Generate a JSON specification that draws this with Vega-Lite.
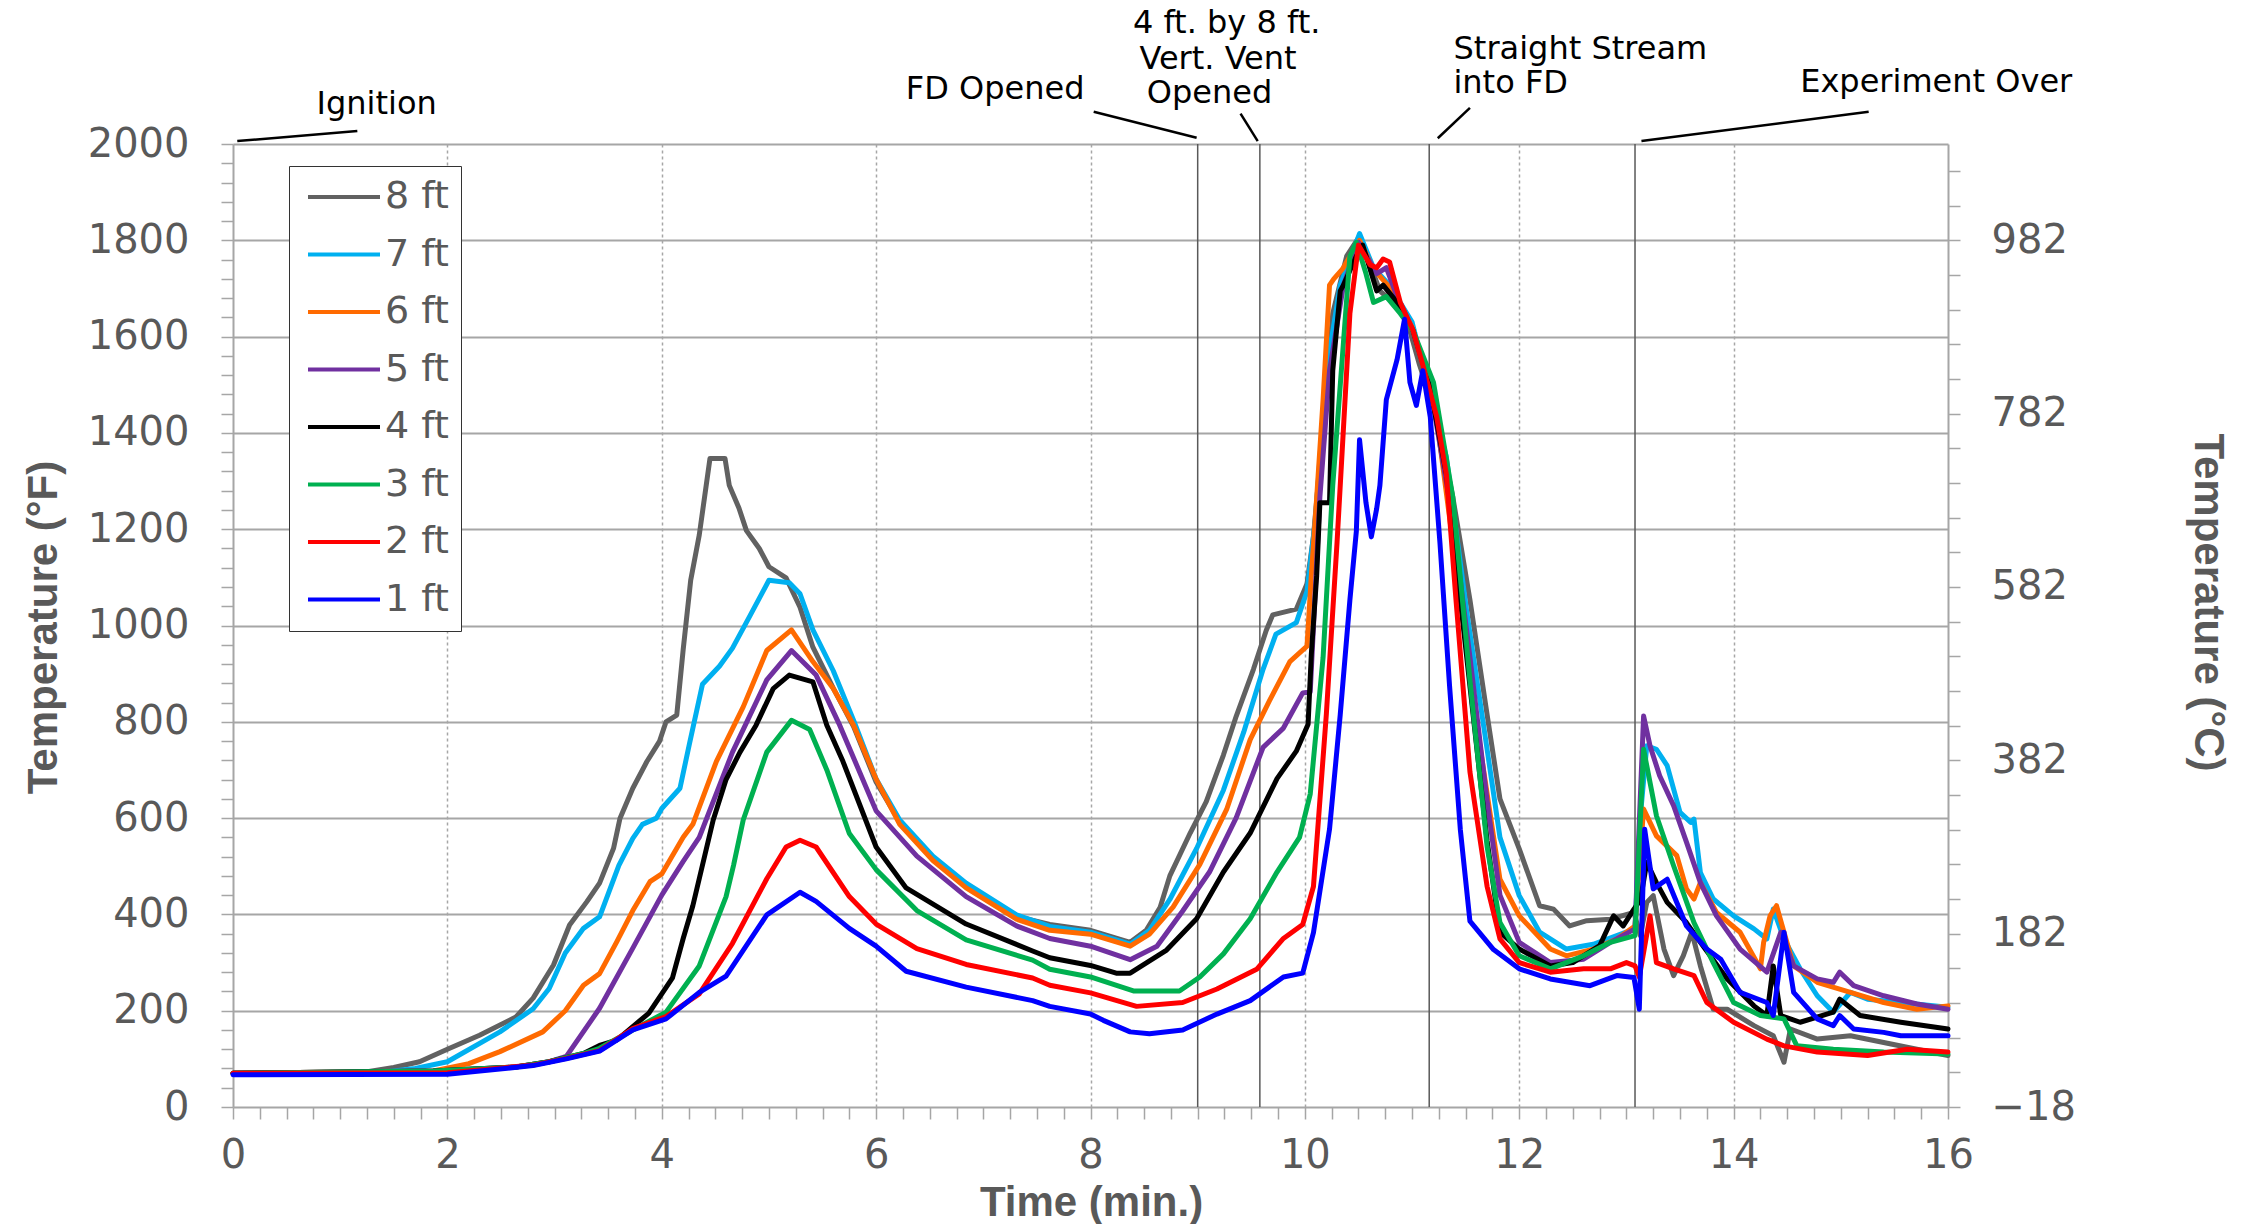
{
"$schema":"https://vega.github.io/schema/vega-lite/v6.json",
"width":1715,"height":963,
"autosize":{"type":"none"},
"padding":{"left":233,"top":144,"right":309,"bottom":117},
"background":"white",
"config":{"view":{"stroke":null}},
"datasets":{
"events":[{"t":9.0},{"t":9.58},{"t":11.16},{"t":13.08}],
"leaders":[{"t":0.04,"t2":1.16,"v":2006,"v2":2027},{"t":8.03,"t2":8.99,"v":2067,"v2":2013},{"t":9.40,"t2":9.56,"v":2063,"v2":2006},{"t":11.54,"t2":11.24,"v":2075,"v2":2012},{"t":15.26,"t2":13.14,"v":2067,"v2":2006}],
"notes":[{"label":"Ignition","t":1.34,"v":2084},{"label":"FD Opened","t":7.11,"v":2114},{"label":"4 ft. by 8 ft.","t":9.27,"v":2251},{"label":"Vert. Vent","t":9.19,"v":2177},{"label":"Opened","t":9.11,"v":2105},{"label":"Straight Stream","t":12.57,"v":2198},{"label":"into FD","t":11.92,"v":2126},{"label":"Experiment Over","t":15.89,"v":2129}],
"temps":[
{"s":"8 ft","t":0,"v":70},{"s":"8 ft","t":1.0,"v":71},{"s":"8 ft","t":1.24,"v":73},{"s":"8 ft","t":1.5,"v":82},{"s":"8 ft","t":1.74,"v":94},{"s":"8 ft","t":2.0,"v":120},{"s":"8 ft","t":2.3,"v":149},{"s":"8 ft","t":2.64,"v":187},{"s":"8 ft","t":2.8,"v":226},{"s":"8 ft","t":2.99,"v":295},{"s":"8 ft","t":3.14,"v":378},{"s":"8 ft","t":3.3,"v":426},{"s":"8 ft","t":3.42,"v":465},{"s":"8 ft","t":3.55,"v":537},{"s":"8 ft","t":3.61,"v":599},{"s":"8 ft","t":3.73,"v":662},{"s":"8 ft","t":3.86,"v":717},{"s":"8 ft","t":3.98,"v":760},{"s":"8 ft","t":4.04,"v":800},{"s":"8 ft","t":4.14,"v":814},{"s":"8 ft","t":4.2,"v":950},{"s":"8 ft","t":4.27,"v":1094},{"s":"8 ft","t":4.35,"v":1188},{"s":"8 ft","t":4.45,"v":1347},{"s":"8 ft","t":4.59,"v":1347},{"s":"8 ft","t":4.63,"v":1291},{"s":"8 ft","t":4.72,"v":1244},{"s":"8 ft","t":4.79,"v":1197},{"s":"8 ft","t":4.91,"v":1160},{"s":"8 ft","t":5.0,"v":1122},{"s":"8 ft","t":5.16,"v":1099},{"s":"8 ft","t":5.29,"v":1038},{"s":"8 ft","t":5.41,"v":955},{"s":"8 ft","t":5.6,"v":870},{"s":"8 ft","t":5.79,"v":790},{"s":"8 ft","t":6.0,"v":675},{"s":"8 ft","t":6.22,"v":592},{"s":"8 ft","t":6.53,"v":518},{"s":"8 ft","t":6.84,"v":462},{"s":"8 ft","t":7.31,"v":396},{"s":"8 ft","t":7.62,"v":379},{"s":"8 ft","t":8.0,"v":367},{"s":"8 ft","t":8.37,"v":342},{"s":"8 ft","t":8.52,"v":367},{"s":"8 ft","t":8.65,"v":415},{"s":"8 ft","t":8.74,"v":480},{"s":"8 ft","t":8.93,"v":569},{"s":"8 ft","t":9.08,"v":634},{"s":"8 ft","t":9.24,"v":731},{"s":"8 ft","t":9.36,"v":812},{"s":"8 ft","t":9.52,"v":909},{"s":"8 ft","t":9.64,"v":990},{"s":"8 ft","t":9.7,"v":1022},{"s":"8 ft","t":9.92,"v":1034},{"s":"8 ft","t":10.02,"v":1087},{"s":"8 ft","t":10.08,"v":1184},{"s":"8 ft","t":10.17,"v":1410},{"s":"8 ft","t":10.26,"v":1648},{"s":"8 ft","t":10.39,"v":1767},{"s":"8 ft","t":10.51,"v":1808},{"s":"8 ft","t":10.64,"v":1731},{"s":"8 ft","t":10.7,"v":1695},{"s":"8 ft","t":10.82,"v":1671},{"s":"8 ft","t":10.95,"v":1636},{"s":"8 ft","t":11.07,"v":1541},{"s":"8 ft","t":11.23,"v":1433},{"s":"8 ft","t":11.38,"v":1267},{"s":"8 ft","t":11.54,"v":1053},{"s":"8 ft","t":11.7,"v":815},{"s":"8 ft","t":11.82,"v":640},{"s":"8 ft","t":12.0,"v":536},{"s":"8 ft","t":12.19,"v":418},{"s":"8 ft","t":12.32,"v":411},{"s":"8 ft","t":12.47,"v":376},{"s":"8 ft","t":12.63,"v":387},{"s":"8 ft","t":12.85,"v":390},{"s":"8 ft","t":13.07,"v":404},{"s":"8 ft","t":13.13,"v":356},{"s":"8 ft","t":13.19,"v":425},{"s":"8 ft","t":13.25,"v":439},{"s":"8 ft","t":13.35,"v":328},{"s":"8 ft","t":13.44,"v":273},{"s":"8 ft","t":13.53,"v":314},{"s":"8 ft","t":13.61,"v":363},{"s":"8 ft","t":13.69,"v":293},{"s":"8 ft","t":13.81,"v":203},{"s":"8 ft","t":13.94,"v":203},{"s":"8 ft","t":14.19,"v":169},{"s":"8 ft","t":14.37,"v":148},{"s":"8 ft","t":14.47,"v":93},{"s":"8 ft","t":14.53,"v":162},{"s":"8 ft","t":14.78,"v":141},{"s":"8 ft","t":15.09,"v":148},{"s":"8 ft","t":15.4,"v":134},{"s":"8 ft","t":15.71,"v":120},{"s":"8 ft","t":16.0,"v":107},
{"s":"7 ft","t":0,"v":70},{"s":"7 ft","t":1.4,"v":72},{"s":"7 ft","t":1.7,"v":80},{"s":"7 ft","t":2.0,"v":94},{"s":"7 ft","t":2.49,"v":156},{"s":"7 ft","t":2.8,"v":204},{"s":"7 ft","t":2.95,"v":246},{"s":"7 ft","t":3.1,"v":320},{"s":"7 ft","t":3.27,"v":371},{"s":"7 ft","t":3.42,"v":395},{"s":"7 ft","t":3.6,"v":502},{"s":"7 ft","t":3.73,"v":558},{"s":"7 ft","t":3.82,"v":587},{"s":"7 ft","t":3.95,"v":600},{"s":"7 ft","t":4.0,"v":620},{"s":"7 ft","t":4.17,"v":662},{"s":"7 ft","t":4.26,"v":756},{"s":"7 ft","t":4.38,"v":878},{"s":"7 ft","t":4.54,"v":916},{"s":"7 ft","t":4.66,"v":953},{"s":"7 ft","t":4.82,"v":1019},{"s":"7 ft","t":5.0,"v":1094},{"s":"7 ft","t":5.19,"v":1089},{"s":"7 ft","t":5.29,"v":1066},{"s":"7 ft","t":5.41,"v":991},{"s":"7 ft","t":5.6,"v":906},{"s":"7 ft","t":5.79,"v":803},{"s":"7 ft","t":6.0,"v":681},{"s":"7 ft","t":6.22,"v":596},{"s":"7 ft","t":6.53,"v":521},{"s":"7 ft","t":6.84,"v":465},{"s":"7 ft","t":7.31,"v":399},{"s":"7 ft","t":7.62,"v":375},{"s":"7 ft","t":8.0,"v":363},{"s":"7 ft","t":8.37,"v":338},{"s":"7 ft","t":8.55,"v":367},{"s":"7 ft","t":8.74,"v":431},{"s":"7 ft","t":8.99,"v":537},{"s":"7 ft","t":9.24,"v":658},{"s":"7 ft","t":9.43,"v":779},{"s":"7 ft","t":9.61,"v":909},{"s":"7 ft","t":9.73,"v":982},{"s":"7 ft","t":9.92,"v":1006},{"s":"7 ft","t":10.02,"v":1071},{"s":"7 ft","t":10.1,"v":1224},{"s":"7 ft","t":10.2,"v":1529},{"s":"7 ft","t":10.33,"v":1707},{"s":"7 ft","t":10.51,"v":1814},{"s":"7 ft","t":10.64,"v":1743},{"s":"7 ft","t":10.79,"v":1707},{"s":"7 ft","t":11.0,"v":1630},{"s":"7 ft","t":11.15,"v":1500},{"s":"7 ft","t":11.32,"v":1350},{"s":"7 ft","t":11.51,"v":1029},{"s":"7 ft","t":11.7,"v":743},{"s":"7 ft","t":11.82,"v":560},{"s":"7 ft","t":12.0,"v":439},{"s":"7 ft","t":12.19,"v":363},{"s":"7 ft","t":12.44,"v":328},{"s":"7 ft","t":12.69,"v":338},{"s":"7 ft","t":12.91,"v":356},{"s":"7 ft","t":13.08,"v":370},{"s":"7 ft","t":13.13,"v":605},{"s":"7 ft","t":13.19,"v":750},{"s":"7 ft","t":13.28,"v":743},{"s":"7 ft","t":13.38,"v":709},{"s":"7 ft","t":13.5,"v":612},{"s":"7 ft","t":13.6,"v":591},{"s":"7 ft","t":13.63,"v":598},{"s":"7 ft","t":13.69,"v":487},{"s":"7 ft","t":13.81,"v":432},{"s":"7 ft","t":14.0,"v":397},{"s":"7 ft","t":14.19,"v":370},{"s":"7 ft","t":14.31,"v":349},{"s":"7 ft","t":14.37,"v":411},{"s":"7 ft","t":14.47,"v":349},{"s":"7 ft","t":14.62,"v":287},{"s":"7 ft","t":14.78,"v":231},{"s":"7 ft","t":14.93,"v":197},{"s":"7 ft","t":15.09,"v":238},{"s":"7 ft","t":15.25,"v":224},{"s":"7 ft","t":15.56,"v":217},{"s":"7 ft","t":16.0,"v":207},
{"s":"6 ft","t":0,"v":70},{"s":"6 ft","t":1.87,"v":75},{"s":"6 ft","t":2.2,"v":90},{"s":"6 ft","t":2.49,"v":115},{"s":"6 ft","t":2.89,"v":156},{"s":"6 ft","t":3.1,"v":200},{"s":"6 ft","t":3.27,"v":253},{"s":"6 ft","t":3.42,"v":277},{"s":"6 ft","t":3.58,"v":343},{"s":"6 ft","t":3.73,"v":408},{"s":"6 ft","t":3.89,"v":468},{"s":"6 ft","t":4.0,"v":484},{"s":"6 ft","t":4.2,"v":560},{"s":"6 ft","t":4.29,"v":587},{"s":"6 ft","t":4.51,"v":718},{"s":"6 ft","t":4.76,"v":831},{"s":"6 ft","t":4.98,"v":948},{"s":"6 ft","t":5.21,"v":991},{"s":"6 ft","t":5.41,"v":925},{"s":"6 ft","t":5.6,"v":869},{"s":"6 ft","t":5.79,"v":793},{"s":"6 ft","t":6.0,"v":681},{"s":"6 ft","t":6.22,"v":587},{"s":"6 ft","t":6.53,"v":512},{"s":"6 ft","t":6.84,"v":455},{"s":"6 ft","t":7.31,"v":390},{"s":"6 ft","t":7.62,"v":367},{"s":"6 ft","t":8.0,"v":359},{"s":"6 ft","t":8.37,"v":334},{"s":"6 ft","t":8.55,"v":359},{"s":"6 ft","t":8.77,"v":415},{"s":"6 ft","t":9.02,"v":504},{"s":"6 ft","t":9.27,"v":618},{"s":"6 ft","t":9.49,"v":763},{"s":"6 ft","t":9.67,"v":844},{"s":"6 ft","t":9.86,"v":925},{"s":"6 ft","t":10.02,"v":957},{"s":"6 ft","t":10.06,"v":1103},{"s":"6 ft","t":10.11,"v":1265},{"s":"6 ft","t":10.17,"v":1469},{"s":"6 ft","t":10.23,"v":1707},{"s":"6 ft","t":10.27,"v":1720},{"s":"6 ft","t":10.35,"v":1740},{"s":"6 ft","t":10.51,"v":1800},{"s":"6 ft","t":10.64,"v":1740},{"s":"6 ft","t":10.8,"v":1700},{"s":"6 ft","t":11.0,"v":1620},{"s":"6 ft","t":11.2,"v":1480},{"s":"6 ft","t":11.45,"v":1053},{"s":"6 ft","t":11.63,"v":755},{"s":"6 ft","t":11.82,"v":473},{"s":"6 ft","t":12.0,"v":397},{"s":"6 ft","t":12.29,"v":328},{"s":"6 ft","t":12.44,"v":314},{"s":"6 ft","t":12.69,"v":328},{"s":"6 ft","t":12.91,"v":349},{"s":"6 ft","t":13.08,"v":376},{"s":"6 ft","t":13.16,"v":619},{"s":"6 ft","t":13.28,"v":563},{"s":"6 ft","t":13.47,"v":522},{"s":"6 ft","t":13.56,"v":453},{"s":"6 ft","t":13.63,"v":432},{"s":"6 ft","t":13.69,"v":466},{"s":"6 ft","t":13.84,"v":404},{"s":"6 ft","t":14.06,"v":363},{"s":"6 ft","t":14.25,"v":287},{"s":"6 ft","t":14.28,"v":342},{"s":"6 ft","t":14.34,"v":397},{"s":"6 ft","t":14.4,"v":418},{"s":"6 ft","t":14.47,"v":363},{"s":"6 ft","t":14.56,"v":293},{"s":"6 ft","t":14.78,"v":259},{"s":"6 ft","t":15.09,"v":238},{"s":"6 ft","t":15.4,"v":217},{"s":"6 ft","t":15.71,"v":203},{"s":"6 ft","t":16.0,"v":210},
{"s":"5 ft","t":0,"v":70},{"s":"5 ft","t":1.87,"v":75},{"s":"5 ft","t":2.64,"v":83},{"s":"5 ft","t":2.95,"v":94},{"s":"5 ft","t":3.11,"v":105},{"s":"5 ft","t":3.42,"v":205},{"s":"5 ft","t":3.73,"v":330},{"s":"5 ft","t":4.0,"v":440},{"s":"5 ft","t":4.2,"v":510},{"s":"5 ft","t":4.35,"v":560},{"s":"5 ft","t":4.66,"v":737},{"s":"5 ft","t":4.98,"v":887},{"s":"5 ft","t":5.21,"v":948},{"s":"5 ft","t":5.44,"v":897},{"s":"5 ft","t":5.66,"v":793},{"s":"5 ft","t":6.0,"v":615},{"s":"5 ft","t":6.38,"v":521},{"s":"5 ft","t":6.84,"v":437},{"s":"5 ft","t":7.31,"v":376},{"s":"5 ft","t":7.62,"v":350},{"s":"5 ft","t":8.0,"v":334},{"s":"5 ft","t":8.37,"v":306},{"s":"5 ft","t":8.62,"v":334},{"s":"5 ft","t":8.86,"v":407},{"s":"5 ft","t":9.11,"v":488},{"s":"5 ft","t":9.36,"v":601},{"s":"5 ft","t":9.61,"v":747},{"s":"5 ft","t":9.8,"v":787},{"s":"5 ft","t":9.98,"v":860},{"s":"5 ft","t":10.05,"v":862},{"s":"5 ft","t":10.14,"v":1267},{"s":"5 ft","t":10.23,"v":1529},{"s":"5 ft","t":10.36,"v":1707},{"s":"5 ft","t":10.5,"v":1796},{"s":"5 ft","t":10.67,"v":1731},{"s":"5 ft","t":10.76,"v":1743},{"s":"5 ft","t":10.86,"v":1683},{"s":"5 ft","t":11.01,"v":1612},{"s":"5 ft","t":11.17,"v":1493},{"s":"5 ft","t":11.38,"v":1219},{"s":"5 ft","t":11.54,"v":934},{"s":"5 ft","t":11.7,"v":636},{"s":"5 ft","t":11.82,"v":440},{"s":"5 ft","t":12.0,"v":342},{"s":"5 ft","t":12.29,"v":300},{"s":"5 ft","t":12.6,"v":307},{"s":"5 ft","t":12.85,"v":342},{"s":"5 ft","t":13.08,"v":370},{"s":"5 ft","t":13.16,"v":812},{"s":"5 ft","t":13.22,"v":750},{"s":"5 ft","t":13.31,"v":688},{"s":"5 ft","t":13.44,"v":626},{"s":"5 ft","t":13.56,"v":550},{"s":"5 ft","t":13.69,"v":466},{"s":"5 ft","t":13.84,"v":397},{"s":"5 ft","t":14.06,"v":328},{"s":"5 ft","t":14.31,"v":280},{"s":"5 ft","t":14.44,"v":363},{"s":"5 ft","t":14.56,"v":293},{"s":"5 ft","t":14.78,"v":266},{"s":"5 ft","t":14.93,"v":259},{"s":"5 ft","t":14.99,"v":280},{"s":"5 ft","t":15.12,"v":252},{"s":"5 ft","t":15.4,"v":231},{"s":"5 ft","t":15.71,"v":214},{"s":"5 ft","t":16.0,"v":203},
{"s":"4 ft","t":0,"v":70},{"s":"4 ft","t":1.87,"v":75},{"s":"4 ft","t":2.64,"v":83},{"s":"4 ft","t":2.95,"v":94},{"s":"4 ft","t":3.27,"v":111},{"s":"4 ft","t":3.42,"v":128},{"s":"4 ft","t":3.58,"v":139},{"s":"4 ft","t":3.88,"v":195},{"s":"4 ft","t":4.1,"v":268},{"s":"4 ft","t":4.2,"v":350},{"s":"4 ft","t":4.29,"v":418},{"s":"4 ft","t":4.48,"v":596},{"s":"4 ft","t":4.6,"v":680},{"s":"4 ft","t":4.73,"v":737},{"s":"4 ft","t":4.88,"v":793},{"s":"4 ft","t":5.04,"v":869},{"s":"4 ft","t":5.19,"v":897},{"s":"4 ft","t":5.41,"v":883},{"s":"4 ft","t":5.54,"v":793},{"s":"4 ft","t":5.69,"v":718},{"s":"4 ft","t":6.0,"v":540},{"s":"4 ft","t":6.28,"v":455},{"s":"4 ft","t":6.84,"v":380},{"s":"4 ft","t":7.46,"v":324},{"s":"4 ft","t":7.62,"v":310},{"s":"4 ft","t":8.0,"v":294},{"s":"4 ft","t":8.24,"v":278},{"s":"4 ft","t":8.37,"v":278},{"s":"4 ft","t":8.71,"v":326},{"s":"4 ft","t":8.99,"v":391},{"s":"4 ft","t":9.24,"v":488},{"s":"4 ft","t":9.49,"v":569},{"s":"4 ft","t":9.74,"v":682},{"s":"4 ft","t":9.92,"v":739},{"s":"4 ft","t":10.03,"v":795},{"s":"4 ft","t":10.06,"v":940},{"s":"4 ft","t":10.11,"v":1103},{"s":"4 ft","t":10.14,"v":1255},{"s":"4 ft","t":10.23,"v":1255},{"s":"4 ft","t":10.26,"v":1529},{"s":"4 ft","t":10.33,"v":1695},{"s":"4 ft","t":10.36,"v":1707},{"s":"4 ft","t":10.48,"v":1767},{"s":"4 ft","t":10.54,"v":1790},{"s":"4 ft","t":10.67,"v":1695},{"s":"4 ft","t":10.73,"v":1707},{"s":"4 ft","t":10.86,"v":1671},{"s":"4 ft","t":11.01,"v":1612},{"s":"4 ft","t":11.17,"v":1493},{"s":"4 ft","t":11.32,"v":1314},{"s":"4 ft","t":11.51,"v":934},{"s":"4 ft","t":11.7,"v":553},{"s":"4 ft","t":11.82,"v":363},{"s":"4 ft","t":12.0,"v":328},{"s":"4 ft","t":12.29,"v":293},{"s":"4 ft","t":12.5,"v":300},{"s":"4 ft","t":12.75,"v":335},{"s":"4 ft","t":12.88,"v":397},{"s":"4 ft","t":12.97,"v":376},{"s":"4 ft","t":13.07,"v":411},{"s":"4 ft","t":13.13,"v":430},{"s":"4 ft","t":13.19,"v":508},{"s":"4 ft","t":13.28,"v":466},{"s":"4 ft","t":13.38,"v":425},{"s":"4 ft","t":13.56,"v":383},{"s":"4 ft","t":13.69,"v":342},{"s":"4 ft","t":13.94,"v":266},{"s":"4 ft","t":14.19,"v":210},{"s":"4 ft","t":14.31,"v":190},{"s":"4 ft","t":14.37,"v":293},{"s":"4 ft","t":14.44,"v":190},{"s":"4 ft","t":14.62,"v":176},{"s":"4 ft","t":14.93,"v":197},{"s":"4 ft","t":14.99,"v":224},{"s":"4 ft","t":15.18,"v":190},{"s":"4 ft","t":15.56,"v":176},{"s":"4 ft","t":16.0,"v":162},
{"s":"3 ft","t":0,"v":70},{"s":"3 ft","t":1.87,"v":75},{"s":"3 ft","t":2.64,"v":83},{"s":"3 ft","t":2.95,"v":94},{"s":"3 ft","t":3.27,"v":111},{"s":"3 ft","t":3.42,"v":122},{"s":"3 ft","t":3.73,"v":160},{"s":"3 ft","t":4.04,"v":197},{"s":"3 ft","t":4.35,"v":293},{"s":"3 ft","t":4.6,"v":437},{"s":"3 ft","t":4.67,"v":502},{"s":"3 ft","t":4.76,"v":596},{"s":"3 ft","t":4.98,"v":737},{"s":"3 ft","t":5.21,"v":803},{"s":"3 ft","t":5.38,"v":784},{"s":"3 ft","t":5.54,"v":700},{"s":"3 ft","t":5.75,"v":568},{"s":"3 ft","t":6.0,"v":493},{"s":"3 ft","t":6.38,"v":408},{"s":"3 ft","t":6.84,"v":347},{"s":"3 ft","t":7.46,"v":305},{"s":"3 ft","t":7.62,"v":286},{"s":"3 ft","t":8.0,"v":270},{"s":"3 ft","t":8.4,"v":241},{"s":"3 ft","t":8.83,"v":241},{"s":"3 ft","t":9.02,"v":270},{"s":"3 ft","t":9.24,"v":318},{"s":"3 ft","t":9.49,"v":391},{"s":"3 ft","t":9.74,"v":488},{"s":"3 ft","t":9.95,"v":560},{"s":"3 ft","t":10.05,"v":650},{"s":"3 ft","t":10.17,"v":934},{"s":"3 ft","t":10.26,"v":1291},{"s":"3 ft","t":10.36,"v":1588},{"s":"3 ft","t":10.42,"v":1767},{"s":"3 ft","t":10.48,"v":1796},{"s":"3 ft","t":10.57,"v":1731},{"s":"3 ft","t":10.64,"v":1671},{"s":"3 ft","t":10.76,"v":1683},{"s":"3 ft","t":10.89,"v":1648},{"s":"3 ft","t":11.01,"v":1612},{"s":"3 ft","t":11.2,"v":1505},{"s":"3 ft","t":11.38,"v":1267},{"s":"3 ft","t":11.54,"v":886},{"s":"3 ft","t":11.7,"v":541},{"s":"3 ft","t":11.82,"v":383},{"s":"3 ft","t":12.0,"v":314},{"s":"3 ft","t":12.29,"v":287},{"s":"3 ft","t":12.6,"v":314},{"s":"3 ft","t":12.85,"v":342},{"s":"3 ft","t":13.08,"v":356},{"s":"3 ft","t":13.16,"v":743},{"s":"3 ft","t":13.28,"v":605},{"s":"3 ft","t":13.44,"v":501},{"s":"3 ft","t":13.63,"v":383},{"s":"3 ft","t":13.81,"v":300},{"s":"3 ft","t":14.0,"v":217},{"s":"3 ft","t":14.25,"v":190},{"s":"3 ft","t":14.47,"v":183},{"s":"3 ft","t":14.59,"v":127},{"s":"3 ft","t":14.93,"v":120},{"s":"3 ft","t":15.4,"v":114},{"s":"3 ft","t":16.0,"v":110},
{"s":"2 ft","t":0,"v":70},{"s":"2 ft","t":2.0,"v":71},{"s":"2 ft","t":2.8,"v":87},{"s":"2 ft","t":3.11,"v":101},{"s":"2 ft","t":3.42,"v":117},{"s":"2 ft","t":3.73,"v":163},{"s":"2 ft","t":4.04,"v":188},{"s":"2 ft","t":4.35,"v":235},{"s":"2 ft","t":4.66,"v":340},{"s":"2 ft","t":4.98,"v":474},{"s":"2 ft","t":5.16,"v":540},{"s":"2 ft","t":5.29,"v":554},{"s":"2 ft","t":5.44,"v":540},{"s":"2 ft","t":5.75,"v":437},{"s":"2 ft","t":6.0,"v":380},{"s":"2 ft","t":6.38,"v":329},{"s":"2 ft","t":6.84,"v":296},{"s":"2 ft","t":7.46,"v":268},{"s":"2 ft","t":7.62,"v":253},{"s":"2 ft","t":8.0,"v":237},{"s":"2 ft","t":8.43,"v":209},{"s":"2 ft","t":8.86,"v":217},{"s":"2 ft","t":9.18,"v":245},{"s":"2 ft","t":9.55,"v":286},{"s":"2 ft","t":9.8,"v":350},{"s":"2 ft","t":9.98,"v":379},{"s":"2 ft","t":10.08,"v":458},{"s":"2 ft","t":10.2,"v":815},{"s":"2 ft","t":10.3,"v":1172},{"s":"2 ft","t":10.36,"v":1410},{"s":"2 ft","t":10.42,"v":1648},{"s":"2 ft","t":10.5,"v":1790},{"s":"2 ft","t":10.61,"v":1749},{"s":"2 ft","t":10.67,"v":1743},{"s":"2 ft","t":10.73,"v":1761},{"s":"2 ft","t":10.79,"v":1755},{"s":"2 ft","t":10.89,"v":1671},{"s":"2 ft","t":11.01,"v":1612},{"s":"2 ft","t":11.1,"v":1541},{"s":"2 ft","t":11.23,"v":1433},{"s":"2 ft","t":11.32,"v":1314},{"s":"2 ft","t":11.41,"v":1053},{"s":"2 ft","t":11.54,"v":696},{"s":"2 ft","t":11.7,"v":458},{"s":"2 ft","t":11.82,"v":349},{"s":"2 ft","t":12.0,"v":300},{"s":"2 ft","t":12.29,"v":280},{"s":"2 ft","t":12.6,"v":287},{"s":"2 ft","t":12.85,"v":287},{"s":"2 ft","t":13.0,"v":300},{"s":"2 ft","t":13.08,"v":293},{"s":"2 ft","t":13.12,"v":270},{"s":"2 ft","t":13.22,"v":397},{"s":"2 ft","t":13.28,"v":300},{"s":"2 ft","t":13.44,"v":287},{"s":"2 ft","t":13.63,"v":273},{"s":"2 ft","t":13.75,"v":217},{"s":"2 ft","t":14.0,"v":176},{"s":"2 ft","t":14.31,"v":141},{"s":"2 ft","t":14.47,"v":127},{"s":"2 ft","t":14.78,"v":114},{"s":"2 ft","t":15.25,"v":107},{"s":"2 ft","t":15.62,"v":120},{"s":"2 ft","t":16.0,"v":114},
{"s":"1 ft","t":0,"v":67},{"s":"1 ft","t":2.0,"v":68},{"s":"1 ft","t":2.8,"v":86},{"s":"1 ft","t":3.11,"v":100},{"s":"1 ft","t":3.42,"v":116},{"s":"1 ft","t":3.73,"v":160},{"s":"1 ft","t":4.04,"v":183},{"s":"1 ft","t":4.35,"v":238},{"s":"1 ft","t":4.6,"v":272},{"s":"1 ft","t":4.67,"v":295},{"s":"1 ft","t":4.98,"v":399},{"s":"1 ft","t":5.29,"v":446},{"s":"1 ft","t":5.44,"v":427},{"s":"1 ft","t":5.75,"v":371},{"s":"1 ft","t":6.0,"v":334},{"s":"1 ft","t":6.28,"v":282},{"s":"1 ft","t":6.84,"v":249},{"s":"1 ft","t":7.46,"v":221},{"s":"1 ft","t":7.62,"v":209},{"s":"1 ft","t":8.0,"v":193},{"s":"1 ft","t":8.12,"v":180},{"s":"1 ft","t":8.37,"v":156},{"s":"1 ft","t":8.55,"v":152},{"s":"1 ft","t":8.86,"v":160},{"s":"1 ft","t":9.18,"v":193},{"s":"1 ft","t":9.49,"v":221},{"s":"1 ft","t":9.8,"v":270},{"s":"1 ft","t":9.98,"v":278},{"s":"1 ft","t":10.08,"v":362},{"s":"1 ft","t":10.23,"v":577},{"s":"1 ft","t":10.33,"v":815},{"s":"1 ft","t":10.42,"v":1053},{"s":"1 ft","t":10.48,"v":1195},{"s":"1 ft","t":10.51,"v":1386},{"s":"1 ft","t":10.57,"v":1255},{"s":"1 ft","t":10.62,"v":1184},{"s":"1 ft","t":10.67,"v":1243},{"s":"1 ft","t":10.7,"v":1291},{"s":"1 ft","t":10.76,"v":1469},{"s":"1 ft","t":10.86,"v":1552},{"s":"1 ft","t":10.93,"v":1636},{"s":"1 ft","t":10.98,"v":1505},{"s":"1 ft","t":11.04,"v":1457},{"s":"1 ft","t":11.1,"v":1529},{"s":"1 ft","t":11.17,"v":1433},{"s":"1 ft","t":11.26,"v":1172},{"s":"1 ft","t":11.35,"v":874},{"s":"1 ft","t":11.45,"v":577},{"s":"1 ft","t":11.54,"v":386},{"s":"1 ft","t":11.76,"v":327},{"s":"1 ft","t":12.0,"v":287},{"s":"1 ft","t":12.29,"v":266},{"s":"1 ft","t":12.66,"v":252},{"s":"1 ft","t":12.91,"v":273},{"s":"1 ft","t":13.07,"v":269},{"s":"1 ft","t":13.12,"v":203},{"s":"1 ft","t":13.17,"v":577},{"s":"1 ft","t":13.25,"v":453},{"s":"1 ft","t":13.38,"v":473},{"s":"1 ft","t":13.56,"v":376},{"s":"1 ft","t":13.75,"v":328},{"s":"1 ft","t":13.88,"v":307},{"s":"1 ft","t":14.06,"v":238},{"s":"1 ft","t":14.31,"v":217},{"s":"1 ft","t":14.37,"v":190},{"s":"1 ft","t":14.47,"v":363},{"s":"1 ft","t":14.56,"v":238},{"s":"1 ft","t":14.78,"v":183},{"s":"1 ft","t":14.93,"v":169},{"s":"1 ft","t":14.99,"v":190},{"s":"1 ft","t":15.12,"v":162},{"s":"1 ft","t":15.4,"v":155},{"s":"1 ft","t":15.56,"v":148},{"s":"1 ft","t":16.0,"v":148}
]
},
"layer":[
{"layer":[
{"data":{"name":"events"},"mark":{"type":"rule","color":"#595959","strokeWidth":1.5},
 "encoding":{"x":{"field":"t","type":"quantitative","scale":{"domain":[0,16],"nice":false,"zero":false}}}},
{"data":{"name":"leaders"},"mark":{"type":"rule","color":"black","strokeWidth":2.5},
 "encoding":{"x":{"field":"t","type":"quantitative","scale":{"domain":[0,16],"nice":false,"zero":false}},"x2":{"field":"t2"},
 "y":{"field":"v","type":"quantitative","scale":{"domain":[0,2000],"nice":false,"zero":false}},"y2":{"field":"v2"}}},
{"data":{"name":"notes"},"mark":{"type":"text","font":"DejaVu Sans","fontSize":32,"color":"black","align":"center","baseline":"middle"},
 "encoding":{"x":{"field":"t","type":"quantitative","scale":{"domain":[0,16],"nice":false,"zero":false}},
 "y":{"field":"v","type":"quantitative","scale":{"domain":[0,2000],"nice":false,"zero":false}},"text":{"field":"label"}}},
{"data":{"name":"temps"},"mark":{"type":"line","strokeWidth":5,"strokeJoin":"round","strokeCap":"round"},
 "encoding":{
 "x":{"field":"t","type":"quantitative","scale":{"domain":[0,16],"nice":false,"zero":false},
  "axis":{"values":[0,0.25,0.5,0.75,1,1.25,1.5,1.75,2,2.25,2.5,2.75,3,3.25,3.5,3.75,4,4.25,4.5,4.75,5,5.25,5.5,5.75,6,6.25,6.5,6.75,7,7.25,7.5,7.75,8,8.25,8.5,8.75,9,9.25,9.5,9.75,10,10.25,10.5,10.75,11,11.25,11.5,11.75,12,12.25,12.5,12.75,13,13.25,13.5,13.75,14,14.25,14.5,14.75,15,15.25,15.5,15.75,16],
  "tickCount":500,
  "labelExpr":"datum.value % 2 === 0 ? format(datum.value, 'd') : ''","labelOverlap":false,"labelFlush":false,
  "labelFont":"DejaVu Sans","labelFontSize":40,"labelColor":"#595959","labelPadding":16,
  "tickSize":12,"tickColor":"#A6A6A6","tickWidth":1.5,"domainColor":"#A6A6A6","domainWidth":2,
  "grid":true,"gridColor":"#A6A6A6","gridDash":[3,3],"gridWidth":1.5,
  "gridOpacity":{"condition":{"test":"datum.value % 2 === 0 && datum.value > 0 && datum.value < 16","value":1},"value":0},
  "title":"Time (min.)","titleFont":"Liberation Sans","titleFontWeight":"bold","titleFontSize":42,"titleColor":"#595959",
  "titleX":858,"titleY":95,"titleBaseline":"middle","titleAlign":"center"}},
 "y":{"field":"v","type":"quantitative","scale":{"domain":[0,2000],"nice":false,"zero":false},
  "axis":{"values":[0,40,80,120,160,200,240,280,320,360,400,440,480,520,560,600,640,680,720,760,800,840,880,920,960,1000,1040,1080,1120,1160,1200,1240,1280,1320,1360,1400,1440,1480,1520,1560,1600,1640,1680,1720,1760,1800,1840,1880,1920,1960,2000],
  "tickCount":500,
  "labelExpr":"datum.value % 200 === 0 ? format(datum.value, 'd') : ''","labelOverlap":false,"labelFlush":false,
  "labelFont":"DejaVu Sans","labelFontSize":40,"labelColor":"#595959","labelPadding":32,
  "tickSize":12,"tickColor":"#A6A6A6","tickWidth":1.5,"domainColor":"#A6A6A6","domainWidth":2,
  "grid":true,"gridColor":"#A6A6A6","gridWidth":2,
  "gridOpacity":{"condition":{"test":"datum.value % 200 === 0 && datum.value > 0","value":1},"value":0},
  "title":"Temperature (°F)","titleFont":"Liberation Sans","titleFontWeight":"bold","titleFontSize":42,"titleColor":"#595959",
  "titleAngle":-90,"titleX":-190,"titleY":483,"titleBaseline":"middle","titleAlign":"center"}},
 "color":{"field":"s","type":"nominal",
  "scale":{"domain":["8 ft","7 ft","6 ft","5 ft","4 ft","3 ft","2 ft","1 ft"],"range":["#616161","#00B0F0","#FF6A00","#7030A0","#000000","#00B050","#FF0000","#0000FF"]},
  "legend":{"orient":"none","legendX":56,"legendY":22,"title":null,"symbolType":"M-1,0H5","symbolSize":576,"symbolStrokeWidth":4,
   "labelFont":"DejaVu Sans","labelFontSize":38,"labelColor":"#595959","labelOffset":46,"rowPadding":19.5,"padding":12,
   "strokeColor":"#333333","fillColor":"white","labelLimit":300}},
 "order":{"field":"t","type":"quantitative"}
 }}
]},
{"data":{"values":[{"c":-17.7778},{"c":1093.3333}]},"mark":{"type":"point","opacity":0},
 "encoding":{"y":{"field":"c","type":"quantitative","scale":{"domain":[-17.7778,1093.3333],"nice":false,"zero":false},
 "axis":{"orient":"right","values":[-17.7778,22.2222,62.2222,102.2222,142.2222,182.2222,222.2222,262.2222,302.2222,342.2222,382.2222,422.2222,462.2222,502.2222,542.2222,582.2222,622.2222,662.2222,702.2222,742.2222,782.2222,822.2222,862.2222,902.2222,942.2222,982.2222,1022.2222,1062.2222],
  "tickCount":500,
  "labelExpr":"(abs((datum.value + 17.7778) % 200) < 0.01 || abs((datum.value + 17.7778) % 200 - 200) < 0.01) ? format(datum.value, '.0f') : ''",
  "labelOverlap":false,"labelFlush":false,"labelFont":"DejaVu Sans","labelFontSize":40,"labelColor":"#595959","labelPadding":31,
  "tickSize":12,"tickColor":"#A6A6A6","tickWidth":1.5,"domainColor":"#A6A6A6","domainWidth":2,"grid":false,
  "title":"Temperature (°C)","titleFont":"Liberation Sans","titleFontWeight":"bold","titleFontSize":42,"titleColor":"#595959",
  "titleAngle":90,"titleX":259,"titleY":458,"titleBaseline":"middle","titleAlign":"center"}}}}
],
"resolve":{"scale":{"y":"independent"}}
}
